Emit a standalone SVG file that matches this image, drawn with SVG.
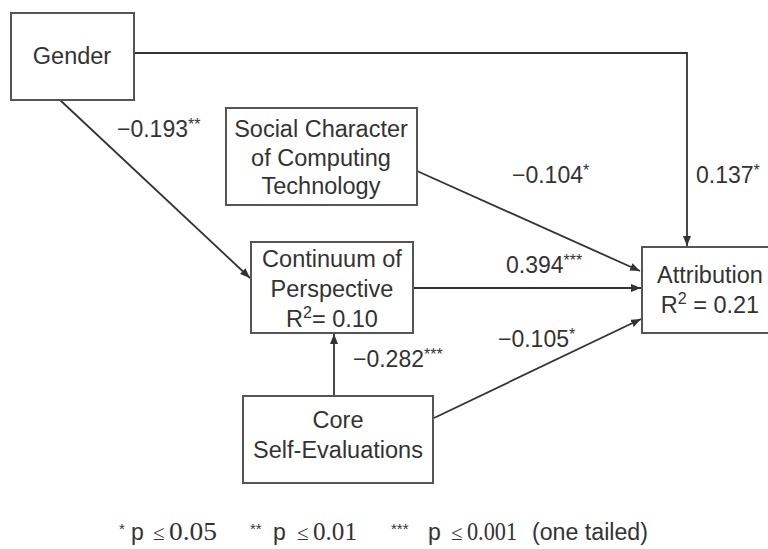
<svg xmlns="http://www.w3.org/2000/svg" width="768" height="549" viewBox="0 0 768 549">
<style>
.box{fill:#fff;stroke:#555;stroke-width:2}
.t{font-family:"Liberation Sans",Arial,sans-serif;font-size:23.5px;fill:#333;text-anchor:middle}
.l{font-family:"Liberation Sans",Arial,sans-serif;font-size:23px;fill:#333}
.sup{font-size:16px}
.c{stroke:#333;stroke-width:1.8;fill:none}
.f{font-family:"Liberation Sans",Arial,sans-serif;font-size:23px;fill:#333}
.fa{font-family:"Liberation Sans",Arial,sans-serif;font-size:15px;fill:#333}
.fs{font-family:"Liberation Serif","Times New Roman",serif;font-size:25px;fill:#333}
.fl{font-family:"Liberation Serif","Times New Roman",serif;font-size:21px;fill:#333}
</style>
<defs>
<marker id="ah" viewBox="0 0 10 8" refX="10" refY="4" markerWidth="10" markerHeight="8" markerUnits="userSpaceOnUse" orient="auto">
<path d="M0,0 L10,4 L0,8 z" fill="#333"/>
</marker>
</defs>
<rect width="768" height="549" fill="#fff"/>
<g id="connectors">
<path class="c" d="M134,53 H687 V246" marker-end="url(#ah)"/>
<path class="c" d="M60,100 L250,278" marker-end="url(#ah)"/>
<path class="c" d="M417,171 L640,271" marker-end="url(#ah)"/>
<path class="c" d="M413,288 L641,288" marker-end="url(#ah)"/>
<path class="c" d="M434,418 L641,319" marker-end="url(#ah)"/>
<path class="c" d="M334,396 L334,334" marker-end="url(#ah)"/>
</g>
<g id="labels">
<text class="l" x="117" y="137">−0.193<tspan class="sup" dy="-7">**</tspan></text>
<text class="l" x="512" y="183">−0.104<tspan class="sup" dy="-7">*</tspan></text>
<text class="l" x="696" y="183">0.137<tspan class="sup" dy="-7">*</tspan></text>
<text class="l" x="506" y="273">0.394<tspan class="sup" dy="-7">***</tspan></text>
<text class="l" x="498" y="347">−0.105<tspan class="sup" dy="-7">*</tspan></text>
<text class="l" x="353" y="367">−0.282<tspan class="sup" dy="-7">***</tspan></text>
</g>
<g id="gender">
<rect class="box" x="11" y="13" width="123" height="87"/>
<text class="t" x="72" y="64">Gender</text>
</g>
<g id="social">
<rect class="box" x="226" y="108" width="191" height="97"/>
<text class="t" x="321" y="137">Social Character</text>
<text class="t" x="321" y="166">of Computing</text>
<text class="t" x="321" y="194">Technology</text>
</g>
<g id="continuum">
<rect class="box" x="251" y="242" width="162" height="91"/>
<text class="t" x="332" y="267">Continuum of</text>
<text class="t" x="332" y="297">Perspective</text>
<text class="t" x="332" y="327">R<tspan class="sup" dy="-9">2</tspan><tspan dy="9">= 0.10</tspan></text>
</g>
<g id="core">
<rect class="box" x="243" y="396" width="190" height="87"/>
<text class="t" x="338" y="428">Core</text>
<text class="t" x="338" y="458">Self-Evaluations</text>
</g>
<g id="attribution">
<rect class="box" x="642" y="247" width="130" height="86"/>
<text class="t" x="710" y="283">Attribution</text>
<text class="t" x="710" y="313">R<tspan class="sup" dy="-9">2</tspan><tspan dy="9"> = 0.21</tspan></text>
</g>
<g id="footnote">
<text class="fa" x="119" y="534">*</text>
<text class="f" x="131" y="540">p</text>
<text class="fl" x="153" y="540">≤</text>
<text class="fs" x="169" y="540" textLength="48" lengthAdjust="spacingAndGlyphs">0.05</text>
<text class="fa" x="250" y="534">**</text>
<text class="f" x="273" y="540">p</text>
<text class="fl" x="297" y="540">≤</text>
<text class="fs" x="313" y="540" textLength="44" lengthAdjust="spacingAndGlyphs">0.01</text>
<text class="fa" x="391" y="534">***</text>
<text class="f" x="428" y="540">p</text>
<text class="fl" x="451" y="540">≤</text>
<text class="fs" x="467" y="540" textLength="50" lengthAdjust="spacingAndGlyphs">0.001</text>
<text class="f" x="532" y="540" textLength="116" lengthAdjust="spacingAndGlyphs">(one tailed)</text>
</g>
</svg>
